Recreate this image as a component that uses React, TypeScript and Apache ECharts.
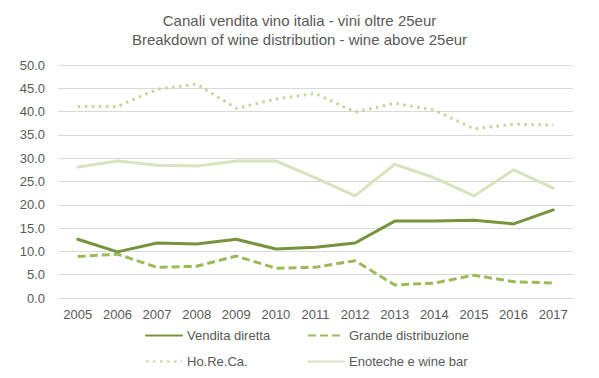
import React, { useEffect, useRef } from "react";
import * as echarts from "echarts";

const years = ["2005","2006","2007","2008","2009","2010","2011","2012","2013","2014","2015","2016","2017"];
const venditaDiretta = [12.6, 9.9, 11.8, 11.6, 12.6, 10.5, 10.9, 11.8, 16.5, 16.5, 16.7, 15.9, 18.9];
const grandeDistribuzione = [8.9, 9.4, 6.6, 6.8, 9.0, 6.4, 6.6, 8.0, 2.8, 3.2, 4.9, 3.5, 3.2];
const horeca = [41.1, 41.1, 44.8, 45.9, 40.7, 42.7, 43.9, 39.9, 41.8, 40.3, 36.3, 37.3, 37.1];
const enoteche = [28.1, 29.4, 28.5, 28.3, 29.4, 29.4, 25.8, 21.9, 28.7, 25.8, 21.9, 27.5, 23.6];

const titleLines = ["Canali vendita vino italia - vini oltre 25eur", "Breakdown of wine distribution - wine above 25eur"];
const seriesNames = ["Vendita diretta", "Grande distribuzione", "Ho.Re.Ca.", "Enoteche e wine bar"];

const FONT = "'Liberation Sans Narrow', 'Arial Narrow', 'Liberation Sans', sans-serif";
const TEXT = "#595959";

export default function App() {
  const ref = useRef<HTMLDivElement>(null);
  useEffect(() => {
    if (!ref.current) return;
    const chart = echarts.init(ref.current, undefined, { renderer: "svg" });
    const legendPos = [
      { left: 140, top: 324 },
      { left: 302, top: 324 },
      { left: 140, top: 350 },
      { left: 302, top: 350 },
    ];
    chart.setOption({
      animation: false,
      backgroundColor: "#ffffff",
      textStyle: { fontFamily: FONT },
      title: {
        text: titleLines.join("\n"),
        left: "center",
        top: 6,
        textStyle: { fontFamily: FONT, fontSize: 15, fontWeight: "normal", color: TEXT, lineHeight: 19 },
      },
      grid: { left: 58, right: 26, top: 65, bottom: 80, containLabel: false },
      legend: legendPos.map((p, i) => ({
        data: [seriesNames[i]],
        left: p.left,
        top: p.top,
        itemWidth: 36,
        itemHeight: 14,
        itemGap: 0,
        itemStyle: { opacity: 0 },
        textStyle: { fontFamily: FONT, fontSize: 13, color: TEXT },
        selectedMode: false,
      })),
      xAxis: {
        type: "category",
        data: years,
        boundaryGap: true,
        axisLine: { show: false },
        axisTick: { show: false },
        axisLabel: { color: TEXT, fontSize: 13, fontFamily: FONT, margin: 10 },
      },
      yAxis: {
        type: "value",
        min: 0,
        max: 50,
        interval: 5,
        axisLine: { show: false },
        axisTick: { show: false },
        axisLabel: { color: TEXT, fontSize: 13, fontFamily: FONT, margin: 13, formatter: (v: number) => v.toFixed(1) },
        splitLine: { lineStyle: { color: "#d9d9d9", width: 1 } },
      },
      series: [
        {
          name: seriesNames[0], type: "line", data: venditaDiretta, symbol: "none",
          itemStyle: { color: "#77933C" },
          lineStyle: { color: "#77933C", width: 3, cap: "round" },
        },
        {
          name: seriesNames[1], type: "line", data: grandeDistribuzione, symbol: "none",
          itemStyle: { color: "#9BBB59" },
          lineStyle: { color: "#9BBB59", width: 3, type: [8, 4] },
        },
        {
          name: seriesNames[2], type: "line", data: horeca, symbol: "none",
          itemStyle: { color: "#C3D69B" },
          lineStyle: { color: "#C3D69B", width: 3, type: [2.5, 4.5] },
        },
        {
          name: seriesNames[3], type: "line", data: enoteche, symbol: "none",
          itemStyle: { color: "#D7E4BD" },
          lineStyle: { color: "#D7E4BD", width: 3, cap: "round" },
        },
      ],
    });
    return () => chart.dispose();
  }, []);
  return <div ref={ref} style={{ width: 599, height: 378, position: "absolute", left: 0, top: 0 }} />;
}
